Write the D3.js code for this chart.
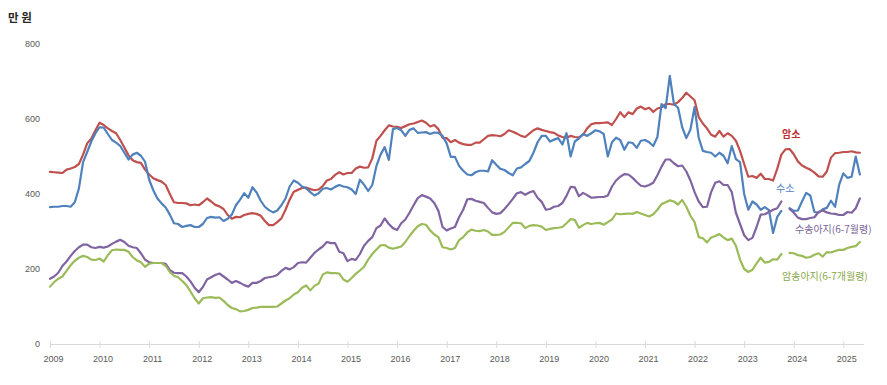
<!DOCTYPE html>
<html>
<head>
<meta charset="utf-8">
<script src="https://cdn.jsdelivr.net/npm/d3@7"></script>
<style>
  html, body { margin: 0; padding: 0; background: #fff; }
  svg { display: block; font-family: "Noto Sans CJK KR", "Noto Sans", sans-serif; }
</style>
</head>
<body>
<svg id="chart" width="887" height="385"></svg>
<script>
// ---- data (monthly, Jan 2009 – May 2025), unit: 만 원 ----
const startYear = 2009;
const monthCount = 197;
const months = d3.range(monthCount); // month index from Jan 2009
const yearLabels = ["2009","2010","2011","2012","2013","2014","2015","2016","2017","2018","2019","2020","2021","2022","2023","2024","2025"];
const yTicks = [0, 200, 400, 600, 800];

// 암소 (cow)
const cow = [
  459,458,457,456,465,468,472,480,505,535,548,570,
  590,584,575,568,562,544,524,503,490,485,483,465,
  452,442,437,433,424,400,378,376,376,375,370,372,
  370,378,388,380,371,367,360,344,334,339,338,344,
  347,349,347,342,328,317,317,325,335,358,385,406,
  411,416,417,413,410,412,421,436,440,451,458,452,
  456,456,468,473,470,471,495,542,555,570,583,580,
  579,576,581,586,588,592,596,590,580,584,573,550,
  549,538,544,537,533,531,531,537,537,546,555,557,
  556,554,560,570,566,561,555,552,561,570,575,571,
  568,565,563,556,552,550,555,552,551,558,575,586,
  589,589,590,591,584,600,618,605,618,613,628,633,
  626,630,619,628,631,640,640,638,645,656,670,660,
  650,605,588,575,558,553,568,553,562,555,542,515,
  480,446,448,443,454,440,440,436,467,505,519,520,
  506,487,476,470,465,457,447,446,460,497,509,510,
  512,512,514,511,510
];
// 수소 (bull)
const bull = [
  365,366,366,368,368,366,378,415,485,512,540,562,
  578,577,560,544,537,528,510,492,505,510,502,486,
  438,410,388,375,364,345,322,320,312,315,317,312,
  312,320,336,339,337,338,328,334,345,370,385,402,
  390,418,404,382,366,357,351,356,370,388,420,436,
  430,420,415,405,396,402,414,416,412,419,424,420,
  418,412,400,438,425,408,424,475,505,525,491,573,
  576,570,555,571,575,563,564,565,560,564,563,555,
  535,499,499,475,462,452,450,458,462,462,460,490,
  478,467,464,456,450,468,471,480,488,510,538,555,
  555,540,545,549,532,562,500,540,548,560,555,562,
  570,567,560,500,538,550,544,518,538,536,523,542,
  544,538,528,552,640,629,715,640,630,578,549,572,
  632,550,515,512,510,500,510,502,482,528,493,485,
  400,358,380,372,358,365,357,296,339,355,null,362,
  355,356,380,403,396,352,350,359,363,382,366,425,
  455,443,446,500,452
];
// 수송아지(6-7월령) (bull calf)
const bullCalf = [
  174,180,190,208,220,235,248,258,265,265,258,256,
  259,257,260,267,273,278,272,262,258,256,242,225,
  218,216,216,216,214,197,190,189,189,180,167,150,
  138,152,172,178,184,188,180,172,163,168,163,157,
  153,163,163,168,176,178,180,184,195,203,199,205,
  216,218,217,230,243,252,260,272,269,269,246,242,
  221,227,224,240,262,275,285,309,316,335,320,309,
  304,322,332,350,370,389,397,393,388,376,355,312,
  303,308,312,338,358,386,387,382,379,376,363,351,
  347,349,360,373,387,402,405,398,404,408,390,379,
  358,360,366,368,376,395,419,418,394,403,397,390,
  391,392,392,396,420,436,446,453,452,443,432,422,
  420,424,430,450,473,492,492,482,474,476,460,436,
  405,380,365,366,405,430,434,424,424,405,350,320,
  290,277,283,312,345,346,352,358,362,380,null,360,
  350,337,333,333,336,338,352,356,351,348,347,344,
  344,352,350,362,388
];
// 암송아지(6-7개월령) (heifer calf)
const heiferCalf = [
  153,165,174,180,195,210,222,230,235,232,225,224,
  228,220,237,250,252,251,251,246,232,223,218,206,
  214,216,216,216,208,192,182,178,168,157,140,122,
  108,122,124,125,123,124,115,104,96,93,87,88,
  91,96,97,99,99,99,99,100,108,116,122,132,
  138,150,156,143,155,161,185,191,189,189,188,172,
  166,176,187,196,206,225,240,252,263,264,257,254,
  257,260,272,288,302,314,320,318,303,292,285,258,
  256,252,256,277,285,298,305,302,301,304,300,291,
  291,292,299,311,323,323,322,309,315,317,316,313,
  304,307,309,310,312,322,333,331,310,317,323,320,
  322,323,318,325,332,348,346,347,348,347,352,348,
  344,340,346,358,373,378,383,380,372,384,366,342,
  325,285,282,271,284,288,293,284,277,281,262,225,
  200,192,198,215,230,217,219,226,225,240,null,243,
  242,237,235,230,232,238,242,233,245,244,248,251,
  251,256,259,261,272
];

const seriesNames = ["암소", "수소", "수송아지(6-7월령)", "암송아지(6-7개월령)"];
const seriesValues = [cow, bull, bullCalf, heiferCalf];

// ---- styling ----
const lineColors = ["#c0504d", "#4f81bd", "#8064a2", "#9bbb59"];
const labelColors = ["#b8312f", "#4f81bd", "#7a6499", "#8aa84a"];
const labelPos = [[782, 138, "bold"], [776, 192, "normal"], [795, 233, "normal"], [782, 280, "normal"]];

const svg = d3.select("#chart");

const x = d3.scaleLinear().domain([0, monthCount]).range([50, 864]);
const y = d3.scaleLinear().domain([0, 800]).range([344, 44]);

// y axis labels (no axis line)
const yAxis = d3.axisLeft(y).tickValues(yTicks).tickSize(0).tickPadding(10);
const gy = svg.append("g").attr("transform", "translate(50,0)").call(yAxis);
gy.select(".domain").remove();
gy.selectAll("text").attr("fill", "#595959").style("font-size", "9px")
  .style("font-family", "'Liberation Sans', 'Noto Sans', sans-serif");

// x axis
const xAxis = d3.axisBottom(x)
  .tickValues(yearLabels.map((d, i) => i * 12))
  .tickFormat((d, i) => yearLabels[i])
  .tickSizeInner(4).tickSizeOuter(0).tickPadding(8);
const gx = svg.append("g").attr("transform", "translate(0,344)").call(xAxis);
gx.select(".domain").attr("stroke", "#d9d9d9").attr("d", `M${x(0)},0.5H${x(monthCount)}`);
gx.selectAll(".tick line").attr("stroke", "#d9d9d9").attr("y1", -3).attr("y2", 4);
gx.selectAll(".tick text").attr("fill", "#595959").attr("dx", 3).style("font-size", "9px")
  .style("font-family", "'Liberation Sans', 'Noto Sans', sans-serif");

// lines
const line = d3.line()
  .defined(d => d != null)
  .x((d, i) => x(months[i]))
  .y(d => y(d));

svg.append("g").selectAll("path")
  .data(seriesValues)
  .join("path")
  .attr("fill", "none")
  .attr("stroke", (d, i) => lineColors[i])
  .attr("stroke-width", 2.2)
  .attr("stroke-linejoin", "round")
  .attr("stroke-linecap", "round")
  .attr("d", d => line(d));

// series labels
svg.append("g").selectAll("text")
  .data(seriesNames)
  .join("text")
  .attr("x", (d, i) => labelPos[i][0])
  .attr("y", (d, i) => labelPos[i][1])
  .attr("fill", (d, i) => labelColors[i])
  .style("font-weight", (d, i) => labelPos[i][2])
  .style("font-size", "10px")
  .text(d => d);

// unit label
svg.append("text")
  .attr("x", 8).attr("y", 22)
  .attr("fill", "#262626")
  .style("font-size", "11.5px")
  .style("font-weight", "bold")
  .text("만 원");
</script>
</body>
</html>
